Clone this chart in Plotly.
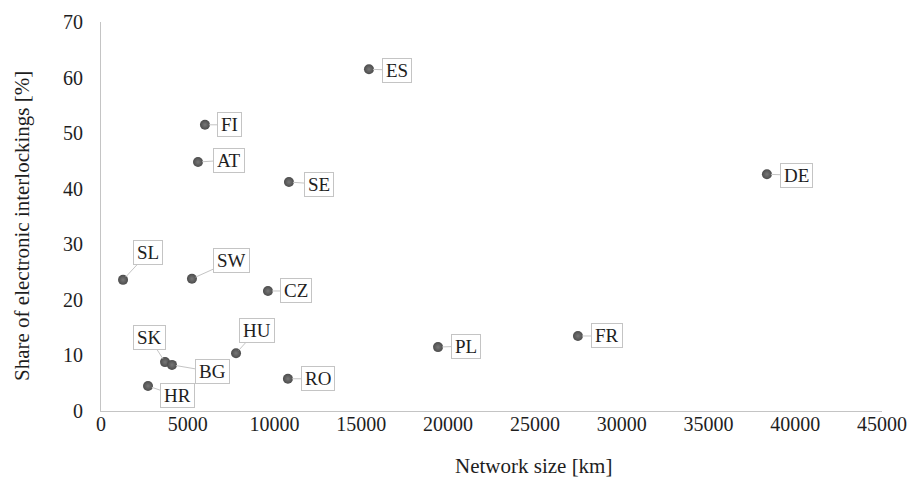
import plotly.graph_objects as go

# Railway networks: size vs. share of electronic interlockings
countries = ["ES", "FI", "AT", "SE", "DE", "SL", "SW", "CZ", "HU", "SK", "BG", "HR", "RO", "PL", "FR"]
network_km = [15440, 5990, 5590, 10830, 38370, 1270, 5240, 9620, 7780, 3690, 4090, 2710, 10770, 19420, 27480]
electronic_share = [61.5, 51.5, 44.8, 41.2, 42.6, 23.6, 23.8, 21.6, 10.4, 8.8, 8.3, 4.5, 5.8, 11.5, 13.5]

x_ticks = [0, 5000, 10000, 15000, 20000, 25000, 30000, 35000, 40000, 45000]
y_ticks = [0, 10, 20, 30, 40, 50, 60, 70]

# Pixel offsets of each callout box from its point
label_offsets = {
    "ES": (28, 1), "FI": (25, 0), "AT": (31, -2), "SE": (30, 2), "DE": (30, 1),
    "SL": (25, -27), "SW": (40, -18), "CZ": (28, 0), "HU": (21, -23), "SK": (-16, -25),
    "BG": (41, 7), "HR": (29, 10), "RO": (30, 0), "PL": (28, -1), "FR": (29, 0),
}

FONT = "Liberation Serif"
AXIS_GREY = "#c4c4c4"
TEXT = "#1e1e1e"

fig = go.Figure()
fig.add_trace(go.Scatter(
    x=network_km, y=electronic_share, mode="markers",
    marker=dict(size=10, color="#4c4c4c",
                gradient=dict(type="radial", color="#777777"),
                line=dict(width=0)),
    hoverinfo="text", text=countries, showlegend=False,
))

annotations = []
for c, xv, yv in zip(countries, network_km, electronic_share):
    ax, ay = label_offsets[c]
    annotations.append(dict(
        x=xv, y=yv, xref="x", yref="y", text=c,
        showarrow=True, arrowhead=0, arrowwidth=1, arrowcolor=AXIS_GREY,
        ax=ax, ay=ay, standoff=4,
        font=dict(family=FONT, size=19, color=TEXT),
        bgcolor="white", bordercolor=AXIS_GREY, borderwidth=1, borderpad=3,
        height=17,
    ))

annotations.append(dict(
    text="Network size [km]", xref="paper", yref="paper", x=0.5544, y=-0.1414,
    showarrow=False, xanchor="center", yanchor="middle",
    font=dict(family=FONT, size=21, color=TEXT),
))
annotations.append(dict(
    text="Share of electronic interlockings [%]", xref="paper", yref="paper",
    x=-0.1012, y=0.4756, textangle=-90, showarrow=False,
    xanchor="center", yanchor="middle",
    font=dict(family=FONT, size=21, color=TEXT),
))

fig.update_layout(
    width=907, height=478,
    margin=dict(l=101, r=25, t=22, b=67, autoexpand=False),
    paper_bgcolor="white", plot_bgcolor="white",
    font=dict(family=FONT, size=20, color=TEXT),
    annotations=annotations,
    xaxis=dict(
        range=[0, 45000], tickvals=x_ticks, ticktext=[str(v) for v in x_ticks],
        showgrid=False, zeroline=False, showline=True, linecolor=AXIS_GREY, linewidth=1,
        ticks="", ticklabelstandoff=-5, automargin=False,
        tickfont=dict(family=FONT, size=20, color=TEXT),
    ),
    yaxis=dict(
        range=[0, 70], tickvals=y_ticks, ticktext=[str(v) for v in y_ticks],
        showgrid=False, zeroline=False, showline=True, linecolor=AXIS_GREY, linewidth=1,
        ticks="", ticklabelstandoff=13, automargin=False,
        tickfont=dict(family=FONT, size=20, color=TEXT),
    ),
)

fig.write_html("out.html")
